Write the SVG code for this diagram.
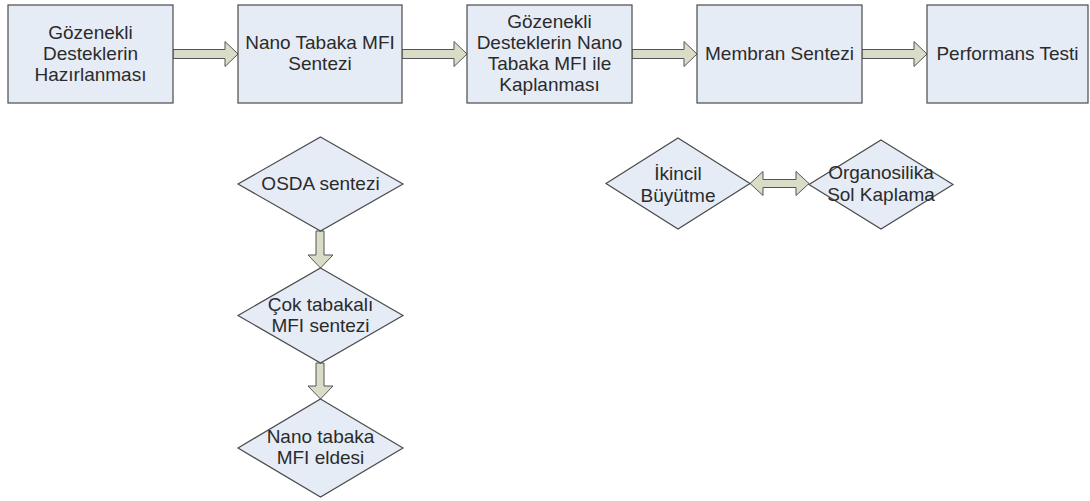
<svg xmlns="http://www.w3.org/2000/svg" width="1090" height="501" viewBox="0 0 1090 501">
<style>
.box{fill:#e6ecf6;stroke:#4a4a4a;stroke-width:1.2}
.arr{fill:#d9dcc6;stroke:#555;stroke-width:1}
text{font-family:"Liberation Sans",Arial,sans-serif;font-size:19px;fill:#2b2b2b;text-anchor:middle}
</style>
<rect width="1090" height="501" fill="#ffffff"/>
<g id="connectors">
<polygon class="arr" points="173,49.5 225,49.5 225,41.5 238,54 225,66.5 225,58.5 173,58.5"/>
<polygon class="arr" points="402,49.5 454,49.5 454,41.5 467,54 454,66.5 454,58.5 402,58.5"/>
<polygon class="arr" points="632,49.5 684,49.5 684,41.5 697,54 684,66.5 684,58.5 632,58.5"/>
<polygon class="arr" points="862,49.5 914,49.5 914,41.5 927,54 914,66.5 914,58.5 862,58.5"/>
<polygon class="arr" points="316,231 324,231 324,255 333,255 320.5,268 308,255 316,255"/>
<polygon class="arr" points="316,363 324,363 324,386 333,386 320.5,399 308,386 316,386"/>
<polygon class="arr" points="750,183.5 763,171.5 763,179.5 796,179.5 796,171.5 809,183.5 796,195.5 796,187.5 763,187.5 763,195.5"/>
</g>
<g id="n1"><rect class="box" x="8" y="5" width="165" height="98"/><text x="90.5" y="39">Gözenekli</text><text x="90.5" y="60">Desteklerin</text><text x="90.5" y="81">Hazırlanması</text></g>
<g id="n2"><rect class="box" x="238" y="5" width="164" height="98"/><text x="320" y="49">Nano Tabaka MFI</text><text x="320" y="70">Sentezi</text></g>
<g id="n3"><rect class="box" x="467" y="5" width="165" height="98"/><text x="549.5" y="28">Gözenekli</text><text x="549.5" y="49">Desteklerin Nano</text><text x="549.5" y="70">Tabaka MFI ile</text><text x="549.5" y="91">Kaplanması</text></g>
<g id="n4"><rect class="box" x="697" y="5" width="165" height="98"/><text x="779.5" y="60">Membran Sentezi</text></g>
<g id="n5"><rect class="box" x="927" y="5" width="161" height="98"/><text x="1007.5" y="60">Performans Testi</text></g>
<g id="d1"><polygon class="box" points="320.5,137 403,184 320.5,231 238,184"/><text x="320.5" y="190">OSDA sentezi</text></g>
<g id="d2"><polygon class="box" points="320.5,268 403,315.5 320.5,363 238,315.5"/><text x="320.5" y="311">Çok tabakalı</text><text x="320.5" y="332">MFI sentezi</text></g>
<g id="d3"><polygon class="box" points="320.5,399 403,448 320.5,497 238,448"/><text x="320.5" y="443">Nano tabaka</text><text x="320.5" y="464">MFI eldesi</text></g>
<g id="d4"><polygon class="box" points="678,138 750,183.5 678,229 606,183.5"/><text x="678" y="180">İkincil</text><text x="678" y="202">Büyütme</text></g>
<g id="d5"><polygon class="box" points="881,140 953,184.5 881,229 809,184.5"/><text x="881" y="179">Organosilika</text><text x="881" y="201">Sol Kaplama</text></g>
</svg>
